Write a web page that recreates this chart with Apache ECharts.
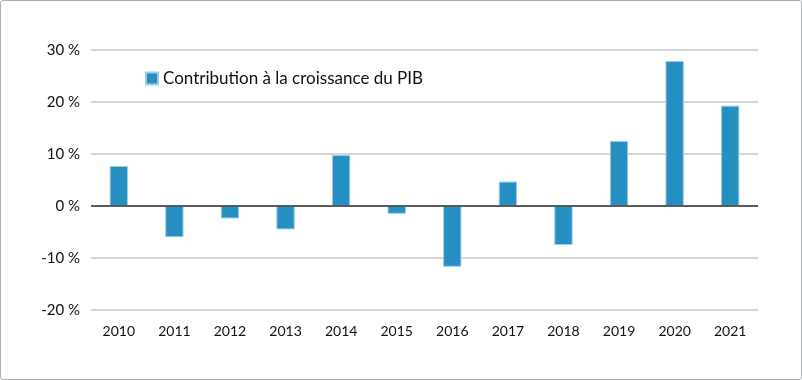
<!DOCTYPE html>
<html><head><meta charset="utf-8">
<script src="https://cdn.jsdelivr.net/npm/echarts@6/dist/echarts.min.js"></script>
<style>
html,body{margin:0;padding:0;background:#fff;}
#c{width:802px;height:380px;box-sizing:border-box;border:1px solid #a9afb5;border-radius:3px;}
</style></head><body>
<div id="c"></div>
<script>
const categories = ['2010','2011','2012','2013','2014','2015','2016','2017','2018','2019','2020','2021'];
const contribution = [7.7, -6.0, -2.4, -4.5, 9.8, -1.5, -11.7, 4.7, -7.5, 12.5, 27.9, 19.3];
const seriesName = 'Contribution à la croissance du PIB';

const chart = echarts.init(document.getElementById('c'), null, {renderer:'canvas'});
chart.setOption({
  animation:false,
  textStyle:{fontFamily:'Lato, sans-serif'},
  grid:{left:90, right:43, top:49, bottom:69, containLabel:false},
  legend:{
    left:144, top:69, padding:0, itemWidth:12, itemHeight:12, itemGap:6,
    textStyle:{fontSize:17, color:'#111', fontFamily:'Lato, sans-serif', padding:[0,0,0,0]},
    data:[{name:seriesName, icon:'rect'}]
  },
  xAxis:{
    type:'category', data:categories,
    axisLine:{show:false}, axisTick:{show:false},
    axisLabel:{fontSize:14, color:'#111', margin:14}
  },
  yAxis:{
    type:'value', min:-20, max:30, interval:10,
    axisLine:{show:false}, axisTick:{show:false},
    axisLabel:{fontSize:15, color:'#111', margin:11, formatter: v => v + ' %'},
    splitLine:{lineStyle:{color:'#c8c8c8', width:1.5}}
  },
  series:[{
    name:seriesName, type:'bar', data:contribution,
    barWidth:'33%',
    itemStyle:{color:'#268fc2', borderColor:'#9fcde6', borderWidth:1},
    markLine:{
      silent:true, symbol:'none', label:{show:false},
      lineStyle:{color:'#333', width:1.5, type:'solid'},
      data:[{yAxis:0}]
    }
  }]
});
</script></body></html>
